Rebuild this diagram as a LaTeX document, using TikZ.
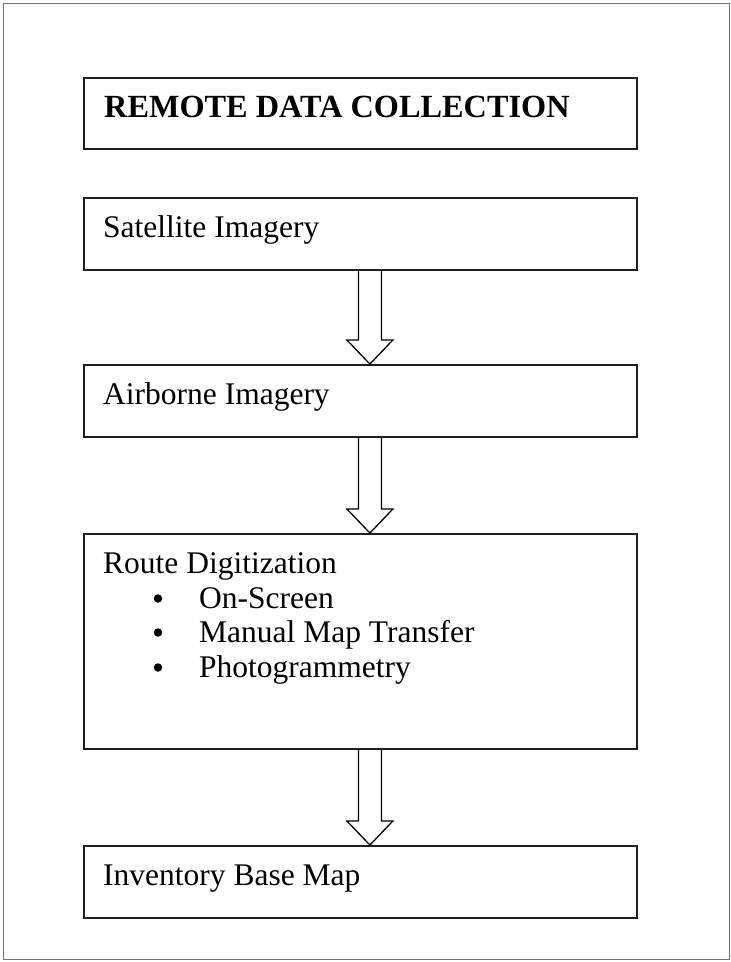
\documentclass[tikz,border=0pt]{standalone}
\usepackage{fontspec}
\setmainfont{Liberation Serif}
\usetikzlibrary{calc}
\tikzset{
  box/.style={draw=black!88, line width=1.8pt, inner sep=0pt, anchor=north west},
  lbl/.style={anchor=base west, inner sep=0pt, font=\fontsize{31.5}{36}\selectfont},
  bul/.style={circle, fill=black, inner sep=0pt, minimum size=8.5pt},
  blk/.style={draw=black, line width=1.3pt, line join=miter},
  frame/.style={draw=black!55, line width=1.4pt}
}
\newcommand{\blkarrow}[2]{%
  \draw[blk] ($(#1.south)+(-2,0)$) -- ($(#2.north)+(-2,-24)$) -- ($(#2.north)+(-13.5,-24)$)
    -- ($(#2.north)+(9.5,0)$) -- ($(#2.north)+(32.5,-24)$) -- ($(#2.north)+(21,-24)$)
    -- ($(#1.south)+(21,0)$);}
\begin{document}
\begin{tikzpicture}[x=1pt,y=-1pt]
\useasboundingbox (0,0) rectangle (731,962);
\draw[frame] (3.5,3.5) rectangle (729.5,959.5);
\node[box, minimum width=553pt, minimum height=71pt] (title) at (83,77) {};
\node[box, minimum width=553pt, minimum height=72pt] (sat) at (83,197) {};
\node[box, minimum width=553pt, minimum height=72pt] (air) at (83,364) {};
\node[box, minimum width=553pt, minimum height=215pt] (route) at (83,533) {};
\node[box, minimum width=553pt, minimum height=72pt] (inv) at (83,845) {};
\node[lbl, font=\fontsize{32.3}{36}\selectfont\bfseries] (tt) at (104,117) {REMOTE DATA COLLECTION};
\node[lbl] (st) at (103,237) {Satellite Imagery};
\node[lbl] (at) at (103,404) {Airborne Imagery};
\node[lbl] (rt) at (103,573) {Route Digitization};
\node[bul] (b1) at (158,598.5) {};
\node[lbl] (r1) at (199,608) {On-Screen};
\node[bul] (b2) at (158,632.5) {};
\node[lbl] (r2) at (199,642) {Manual Map Transfer};
\node[bul] (b3) at (158,667.5) {};
\node[lbl] (r3) at (199,677) {Photogrammetry};
\node[lbl] (it) at (103,885) {Inventory Base Map};
\blkarrow{sat}{air}
\blkarrow{air}{route}
\blkarrow{route}{inv}
\end{tikzpicture}
\end{document}
